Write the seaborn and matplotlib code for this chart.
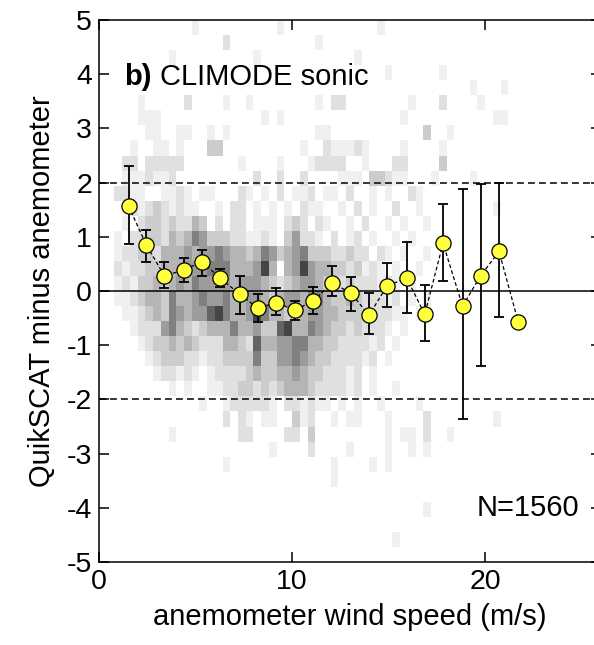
import numpy as np
import pandas as pd
import matplotlib
matplotlib.use("Agg")
import matplotlib.pyplot as plt
import seaborn as sns
from matplotlib.colors import ListedColormap

# ---- bin-averaged differences (QuikSCAT minus anemometer) ----
wind_speed = [1.53, 2.46, 3.39, 4.42, 5.33, 6.27, 7.29, 8.21, 9.16, 10.17, 11.10,
              12.08, 13.06, 13.98, 14.91, 15.94, 16.87, 17.82, 18.83, 19.76, 20.72, 21.72]
bias_mean = [1.57, 0.84, 0.28, 0.39, 0.54, 0.24, -0.06, -0.31, -0.22, -0.35, -0.18,
             0.15, -0.04, -0.45, 0.09, 0.24, -0.43, 0.88, -0.28, 0.28, 0.73, -0.58]
bias_upper = [2.31, 1.13, 0.53, 0.60, 0.76, 0.41, 0.28, -0.05, 0.05, -0.18, 0.08,
              0.46, 0.25, -0.03, 0.51, 0.90, 0.11, 1.60, 1.89, 1.98, 1.99, np.nan]
bias_lower = [0.87, 0.54, 0.05, 0.17, 0.28, 0.07, -0.42, -0.57, -0.45, -0.54, -0.42,
              -0.10, -0.37, -0.80, -0.30, -0.41, -0.93, 0.19, -2.37, -1.38, -0.48, np.nan]

# ---- background 2-D histogram (relative density levels 0-9) ----
# columns: wind speed bins of 0.4 m/s starting at 0; rows: 36 bins from +5 (top) to -5
density_rows = [
    "00000000 00001000 00000001 00000000 00001000 00000000 00000000",
    "00000000 00000000 20000000 00001000 00000000 00000000 00000000",
    "00000000 01000000 00001000 00000000 01000000 00000000 00000000",
    "00000000 00000000 00000000 00000000 00000100 00001000 00000000",
    "00000000 00000000 00000000 00000000 00000000 00000000 10001000",
    "00000100 00020000 10010000 00001022 00000000 10002000 01000000",
    "00000111 00000000 00000101 00000000 00000001 00000000 00011000",
    "00000011 00110010 10000000 00001100 00000000 00300100 00000000",
    "00001001 10100033 00000000 00100211 12100001 00001000 00000000",
    "00022022 22200000 00100001 00012222 00100022 00003000 00000000",
    "00011121 12000000 00002002 00200001 11033211 00010000 10000000",
    "00221100 11210110 00210102 01120110 20010100 21000000 00000000",
    "00002123 21211001 02201010 10211001 02010020 01000000 00010000",
    "00010233 23224302 02201110 23202100 10200101 00100000 00000000",
    "00102233 24346533 32211210 35221020 12010010 10000000 00000000",
    "00122332 44454556 54434653 45633322 32202101 00100000 00000000",
    "00212233 44455566 64445840 45854433 23121010 01000000 00000000",
    "00121334 34546555 54555432 34554332 32221210 10000000 00000000",
    "00112344 36445655 64455434 55466433 43222120 10100000 00000000",
    "00011234 36545578 64458644 33455443 33222211 01000000 00000000",
    "00001222 56432344 46445337 84465433 23222101 00000000 00000000",
    "00000123 34343222 44327445 56644332 22212010 00000000 00000000",
    "00000012 33322122 33336335 56543322 22120100 00000000 00000000",
    "00000001 22121012 22234334 45433222 12010000 00000000 00000000",
    "00000000 01010011 22332323 44432222 12010010 00000000 00000000",
    "00000000 00000100 12222210 22121101 01001000 01000000 00000000",
    "00000000 00000000 20210110 03120010 11000100 00200000 00010000",
    "00000000 01000000 00220000 22030000 00000101 10200100 00000000",
    "00000000 00000000 00000010 00020000 10000100 10100000 00000000",
    "00000000 00000000 10000000 00000010 00010100 00000000 00000000",
    "00000000 00000000 00000000 00000010 00000000 00000000 00000000",
    "00000000 00000000 00000000 00000000 00000000 00000000 00000000",
    "00000000 00000000 00000000 00000000 00000000 00100000 00000000",
    "00000000 00000000 00000000 00000000 00000000 00000000 00000000",
    "00000000 00000000 00000000 00000000 00000010 00000000 00000000",
    "00000000 00000000 00000000 00000000 00000000 00000000 00000000",
]
hist_dx = 0.4
hist_ny = 36
# grey shade for density levels 1..9
level_grays = [0.94, 0.88, 0.80, 0.71, 0.61, 0.50, 0.39, 0.27, 0.18]

panel_label = "b)"
panel_title = "CLIMODE sonic"
n_label = "N=1560"
x_label = "anemometer wind speed (m/s)"
y_label = "QuikSCAT minus anemometer"

# ---- build long table of histogram cells ----
dy = 10.0 / hist_ny
recs = []
for i, row in enumerate(density_rows):
    row = row.replace(" ", "")
    yc = 5 - (i + 0.5) * dy
    for j, ch in enumerate(row):
        w = int(ch)
        if w:
            recs.append((j * hist_dx + hist_dx / 2, yc, w))
cells = pd.DataFrame(recs, columns=["x", "y", "w"])
pts = pd.DataFrame({"u": wind_speed, "d": bias_mean, "hi": bias_upper, "lo": bias_lower})

sns.set_style("ticks")
plt.rcParams["font.family"] = ["Liberation Sans", "DejaVu Sans"]
plt.rcParams["axes.unicode_minus"] = False
plt.rcParams["text.color"] = "black"
plt.rcParams["axes.labelcolor"] = "black"

fig = plt.figure(figsize=(5.94, 6.45), dpi=100)
ax = fig.add_axes([99 / 594, 83 / 645, 502 / 594, 542 / 645])

gray = ListedColormap([(g, g, g) for g in level_grays])
xedges = np.arange(0, 26.0 + 1e-9, hist_dx)
yedges = np.linspace(-5, 5, hist_ny + 1)
sns.histplot(data=cells, x="x", y="y", weights="w", bins=[xedges, yedges],
             cmap=gray, vmin=0.5, vmax=9.5, ax=ax, zorder=0)

ax.axhline(0, color="k", lw=1.1, zorder=2)
for yv in (2, -2):
    ax.axhline(yv, color="k", lw=1.1, ls=(0, (4.5, 2.7)), zorder=2)

ax.errorbar(pts["u"], pts["d"], yerr=[pts["d"] - pts["lo"], pts["hi"] - pts["d"]],
            fmt="none", ecolor="k", elinewidth=1.3, capsize=3.3, capthick=1.3, zorder=3)
sns.lineplot(data=pts, x="u", y="d", color="k", lw=0.9, linestyle=(0, (3, 2)),
             sort=False, estimator=None, ax=ax, zorder=4)
sns.scatterplot(data=pts, x="u", y="d", s=120, color="#ffff3c", edgecolor="k",
                linewidth=0.9, ax=ax, zorder=5, legend=False)

ax.set_xlim(0, 26)
ax.set_ylim(-5, 5)
ax.set_xticks([0, 10, 20])
ax.set_yticks(range(-5, 6))
ax.tick_params(direction="in", length=7, width=1.1, top=True, right=True,
               labelsize=20.5, colors="k", pad=5)
for s in ax.spines.values():
    s.set_linewidth(1.1)
    s.set_color("k")

ax.set_xlabel(x_label, fontsize=21, labelpad=6, color="k")
ax.set_ylabel(y_label, fontsize=21, labelpad=8, color="k")

t1 = ax.text(1.3, 3.8, panel_label, fontsize=21, fontweight="bold", va="baseline", color="k")
ax.annotate(panel_title, xy=(1, 0), xycoords=t1, xytext=(6, 0), textcoords="offset points",
            fontsize=21, va="bottom", color="k")
ax.text(24.87, -4.16, n_label, fontsize=21, ha="right", va="baseline", color="k")

fig.savefig("out.png", dpi=100)
